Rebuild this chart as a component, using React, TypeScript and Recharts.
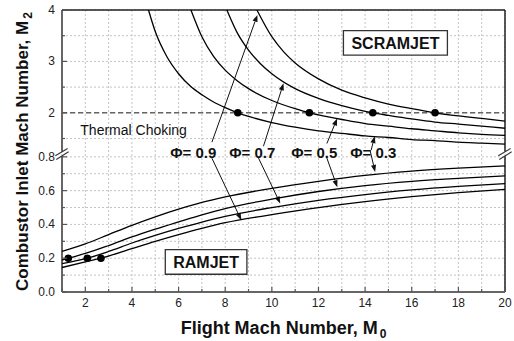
import {
  ComposedChart, Line, Scatter, XAxis, YAxis, CartesianGrid,
  ReferenceLine, ReferenceArea, ReferenceDot,
} from 'recharts'

type Pt = [number, number]

const FONT = '"Liberation Sans", Arial, Helvetica, sans-serif'

// scramjet branch: [flight Mach M0, combustor inlet Mach M2]
const SCRAM_PHI_03: Pt[] = [
  [4.71, 4.0], [5, 3.58], [5.5, 3.09], [6, 2.76], [6.5, 2.52], [7, 2.35], [7.5, 2.21],
  [8, 2.1], [8.54, 2.0], [9, 1.93], [10, 1.81], [11, 1.72], [12, 1.65], [13, 1.6],
  [14, 1.55], [15, 1.52], [16, 1.48], [17, 1.46], [18, 1.43], [19, 1.41], [20, 1.39],
]
const SCRAM_PHI_05: Pt[] = [
  [6.53, 4.0], [7, 3.48], [7.5, 3.1], [8, 2.83], [8.5, 2.63], [9, 2.47], [10, 2.24],
  [11, 2.08], [11.61, 2.0], [12, 1.96], [13, 1.87], [14, 1.79], [15, 1.74], [16, 1.69],
  [17, 1.65], [18, 1.61], [19, 1.58], [20, 1.56],
]
const SCRAM_PHI_07: Pt[] = [
  [8.07, 4.0], [8.5, 3.57], [9, 3.22], [9.5, 2.96], [10, 2.76], [11, 2.47], [12, 2.28],
  [13, 2.14], [14, 2.03], [14.33, 2.0], [15, 1.95], [16, 1.88], [17, 1.82], [18, 1.78],
  [19, 1.74], [20, 1.7],
]
const SCRAM_PHI_09: Pt[] = [
  [9.36, 4.0], [10, 3.48], [10.5, 3.19], [11, 2.97], [12, 2.66], [13, 2.44], [14, 2.29],
  [15, 2.17], [16, 2.08], [17, 2.0], [18, 1.94], [19, 1.89], [20, 1.84],
]

// ramjet branch
const RAM_PHI_03: Pt[] = [
  [1, 0.241], [2, 0.285], [3, 0.34], [4, 0.395], [5, 0.445], [6, 0.49], [7, 0.53],
  [8, 0.563], [10, 0.614], [12, 0.655], [14, 0.69], [16, 0.715], [18, 0.733], [20, 0.747],
]
const RAM_PHI_05: Pt[] = [
  [1, 0.188], [1.27, 0.2], [2, 0.228], [3, 0.275], [4, 0.326], [5, 0.372], [6, 0.415],
  [7, 0.457], [8, 0.494], [10, 0.55], [12, 0.595], [14, 0.63], [16, 0.655], [18, 0.673], [20, 0.687],
]
const RAM_PHI_07: Pt[] = [
  [1, 0.168], [2.085, 0.2], [3, 0.24], [4, 0.29], [5, 0.335], [6, 0.376], [7, 0.414],
  [8, 0.448], [10, 0.5], [12, 0.543], [14, 0.577], [16, 0.604], [18, 0.625], [20, 0.642],
]
const RAM_PHI_09: Pt[] = [
  [1, 0.145], [2, 0.178], [2.67, 0.2], [4, 0.257], [5, 0.3], [6, 0.34], [7, 0.377],
  [8, 0.41], [10, 0.458], [12, 0.5], [14, 0.535], [16, 0.564], [18, 0.588], [20, 0.607],
]

// marked points: thermal choking at M2 = 2, ramjet start at M2 = 0.2
const CHOKE_M2 = 2
const CHOKE_M0 = [8.54, 11.61, 14.33, 17.0]
const RAM_START_M2 = 0.2
const RAM_START_M0 = [1.27, 2.085, 2.67]

const MACH_TICKS = [1, 2, 3, 4, 5, 6, 7, 8, 9, 10, 11, 12, 13, 14, 15, 16, 17, 18, 19, 20]
const M2_TICKS_LOW = [0, 0.1, 0.2, 0.3, 0.4, 0.5, 0.6, 0.7, 0.8]
const M2_TICKS_HIGH = [1.5, 2, 2.5, 3, 3.5, 4]

const PHI_LABELS = ['Φ= 0.9', 'Φ= 0.7', 'Φ= 0.5', 'Φ= 0.3']
const PHI_LABEL_M0 = [5.64, 8.17, 10.83, 13.36]
const PHI_LABEL_M2 = 0.794

// leader arrows from the Φ labels, [M0, M2] tail -> head
const ARROWS: { from: Pt; to: Pt }[] = [
  { from: [7.43, 0.887], to: [9.38, 3.905] },
  { from: [7.43, 0.792], to: [8.69, 0.425] },
  { from: [9.64, 0.863], to: [10.5, 2.573] },
  { from: [9.41, 0.798], to: [10.36, 0.524] },
  { from: [12.36, 0.879], to: [12.8, 1.89] },
  { from: [12.33, 0.804], to: [12.81, 0.62] },
  { from: [14.26, 0.84], to: [14.41, 1.546] },
  { from: [14.21, 0.84], to: [14.43, 0.711] },
]

// broken y axis: 0-0.8 on the full scale, the M2 > 1 part squeezed above the break
const T_AT_2 = 1.0607
const UPPER_STEP = 0.3043
const toT = (v: number) => (v < 1 ? v : T_AT_2 + (v - 2) * UPPER_STEP)
const fromT = (t: number) => (t <= 0.8001 ? t : 2 + (t - T_AT_2) / UPPER_STEP)
const TOP_T = toT(4)
const BREAK_T = 0.818
const Y_TICKS = [...M2_TICKS_LOW, ...M2_TICKS_HIGH].map(toT)

const asRows = (pts: Pt[]) => pts.map(([x, y]) => ({ x, y: toT(y) }))

// the svg covers the whole page, so the layout below is in page pixels
const W = 514
const H = 341
const AXIS_W = 62
const RIGHT_W = 9
const X_AXIS_H = 49

function MachTick({ x, y, payload }: any) {
  const v = payload.value
  const major = v % 2 === 0
  return (
    <g>
      <line x1={x} y1={y} x2={x} y2={y - (major ? 5 : 3)} stroke="#555" strokeWidth={1.2} />
      {major && (
        <text x={x} y={y + 15} textAnchor="middle" fontSize={12} fill="#222" fontFamily={FONT}>
          {v}
        </text>
      )}
    </g>
  )
}

function isMajorM2(t: number) {
  const v = fromT(t)
  if (v < 1) return Math.round(v * 10) % 2 === 0
  return Math.abs(v - Math.round(v)) < 1e-6
}

function M2Tick({ x, y, payload }: any) {
  const t = payload.value
  const v = fromT(t)
  const major = isMajorM2(t)
  const text = v < 1 ? v.toFixed(1) : String(Math.round(v))
  return (
    <g>
      <line x1={x} y1={y} x2={x + (major ? 5 : 3)} y2={y} stroke="#555" strokeWidth={1.2} />
      {major && (
        <text x={x - 7} y={y} dy={4} textAnchor="end" fontSize={12} fill="#222" fontFamily={FONT}>
          {text}
        </text>
      )}
    </g>
  )
}

function RightTick({ x, y, payload }: any) {
  const major = isMajorM2(payload.value)
  return <line x1={x} y1={y} x2={x - (major ? 5 : 3)} y2={y} stroke="#222" strokeWidth={1.2} />
}

function Arrow({ x1, y1, x2, y2 }: any) {
  const a = Math.atan2(y2 - y1, x2 - x1)
  const len = 7
  const half = 2.6
  const bx = x2 - len * Math.cos(a)
  const by = y2 - len * Math.sin(a)
  const pts = `${x2},${y2} ${bx + half * Math.sin(a)},${by - half * Math.cos(a)} ${bx - half * Math.sin(a)},${by + half * Math.cos(a)}`
  return (
    <g>
      <line x1={x1} y1={y1} x2={bx} y2={by} stroke="#111" strokeWidth={1} />
      <polygon points={pts} fill="#111" />
    </g>
  )
}

function BreakMark({ cx, cy }: any) {
  return (
    <g stroke="#333" strokeWidth={1.1}>
      <line x1={cx - 6.7} y1={cy + 2} x2={cx + 5.6} y2={cy - 5.4} />
      <line x1={cx - 5.7} y1={cy + 5.6} x2={cx + 6.6} y2={cy - 2} />
    </g>
  )
}

const textAt = (label: string, size: number, weight: number) => (p: any) => (
  <text x={p.cx} y={p.cy} fontSize={size} fontWeight={weight} fill="#111" fontFamily={FONT}>
    {label}
  </text>
)

const XTitle = () => (
  <text x={AXIS_W + (W - AXIS_W - RIGHT_W) / 2} y={333.5} textAnchor="middle"
    fontSize={18} fontWeight={700} fill="#111" fontFamily={FONT}>
    Flight Mach Number, M<tspan fontSize={12} dx={2} dy={4}>0</tspan>
  </text>
)

const YTitle = () => (
  <text x={27.5} y={151.5} transform="rotate(-90, 27.5, 151.5)" textAnchor="middle"
    fontSize={17} fontWeight={700} fill="#111" fontFamily={FONT}>
    Combustor Inlet Mach Number, M<tspan fontSize={12} dx={2} dy={4}>2</tspan>
  </text>
)

const CURVES = [
  SCRAM_PHI_03, SCRAM_PHI_05, SCRAM_PHI_07, SCRAM_PHI_09,
  RAM_PHI_03, RAM_PHI_05, RAM_PHI_07, RAM_PHI_09,
]

const dotRows = [
  ...CHOKE_M0.map((x) => ({ x, y: toT(CHOKE_M2) })),
  ...RAM_START_M0.map((x) => ({ x, y: toT(RAM_START_M2) })),
]

export default function App() {
  return (
    <div style={{ position: 'fixed', left: 0, top: 0, width: W, height: H, background: '#fff' }}>
      <ComposedChart width={W} height={H} margin={{ top: 10, right: 0, bottom: 0, left: 0 }}>
        <CartesianGrid stroke="#c4c4c4" strokeDasharray="2 2" />
        <XAxis
          dataKey="x" type="number" domain={[1, 20]} ticks={MACH_TICKS} interval={0}
          tickSize={0} tickMargin={0} tick={<MachTick />} height={X_AXIS_H}
          axisLine={{ stroke: '#666', strokeWidth: 2 }} label={XTitle}
        />
        <YAxis
          dataKey="y" type="number" domain={[0, TOP_T]} ticks={Y_TICKS} interval={0}
          tickSize={0} tickMargin={0} tick={<M2Tick />} width={AXIS_W}
          axisLine={false} label={YTitle}
        />
        <YAxis
          yAxisId="r" orientation="right" dataKey="y" type="number" domain={[0, TOP_T]}
          ticks={Y_TICKS} interval={0} tickSize={0} tickMargin={0} tick={<RightTick />}
          width={RIGHT_W} axisLine={false}
        />

        {/* frame, split at the axis break */}
        <ReferenceLine segment={[{ x: 1, y: 0 }, { x: 1, y: 0.805 }]} stroke="#666" strokeWidth={2} />
        <ReferenceLine segment={[{ x: 1, y: 0.831 }, { x: 1, y: TOP_T }]} stroke="#666" strokeWidth={2} />
        <ReferenceLine segment={[{ x: 20, y: 0 }, { x: 20, y: 0.805 }]} stroke="#222" strokeWidth={1.5} />
        <ReferenceLine segment={[{ x: 20, y: 0.831 }, { x: 20, y: TOP_T }]} stroke="#222" strokeWidth={1.5} />
        <ReferenceLine y={TOP_T} stroke="#222" strokeWidth={1.5} />
        <ReferenceDot x={1} y={BREAK_T} r={0} shape={BreakMark} />
        <ReferenceDot x={20} y={BREAK_T} r={0} shape={BreakMark} />

        <ReferenceLine y={toT(CHOKE_M2)} stroke="#666" strokeWidth={1.5} strokeDasharray="5 3" />

        <ReferenceArea
          x1={13.07} x2={17.53} y1={toT(3.124)} y2={toT(3.597)}
          fill="#fff" fillOpacity={1} stroke="#333" strokeWidth={1.3}
          label={{ value: 'SCRAMJET', position: 'center', fontSize: 16, fontWeight: 700, fill: '#111', fontFamily: FONT }}
        />
        <ReferenceArea
          x1={5.43} x2={8.93} y1={0.105} y2={0.251}
          fill="#fff" fillOpacity={1} stroke="#333" strokeWidth={1.3}
          label={{ value: 'RAMJET', position: 'center', fontSize: 16, fontWeight: 700, fill: '#111', fontFamily: FONT }}
        />

        <ReferenceDot x={1.785} y={toT(1.575)} r={0} shape={textAt('Thermal Choking', 14, 400)} />
        {PHI_LABELS.map((label, i) => (
          <ReferenceDot key={label} x={PHI_LABEL_M0[i]} y={PHI_LABEL_M2} r={0} shape={textAt(label, 15, 700)} />
        ))}

        {ARROWS.map((a, i) => (
          <ReferenceLine
            key={i}
            segment={[{ x: a.from[0], y: toT(a.from[1]) }, { x: a.to[0], y: toT(a.to[1]) }]}
            shape={Arrow}
          />
        ))}

        {CURVES.map((c, i) => (
          <Line
            key={i} data={asRows(c)} dataKey="y" type="monotone"
            stroke="#000" strokeWidth={1.3} dot={false} activeDot={false}
            isAnimationActive={false}
          />
        ))}

        <Scatter
          data={dotRows} fill="#000" isAnimationActive={false}
          shape={(p: any) => <circle cx={p.cx} cy={p.cy} r={3.8} fill="#000" />}
        />
      </ComposedChart>
    </div>
  )
}
